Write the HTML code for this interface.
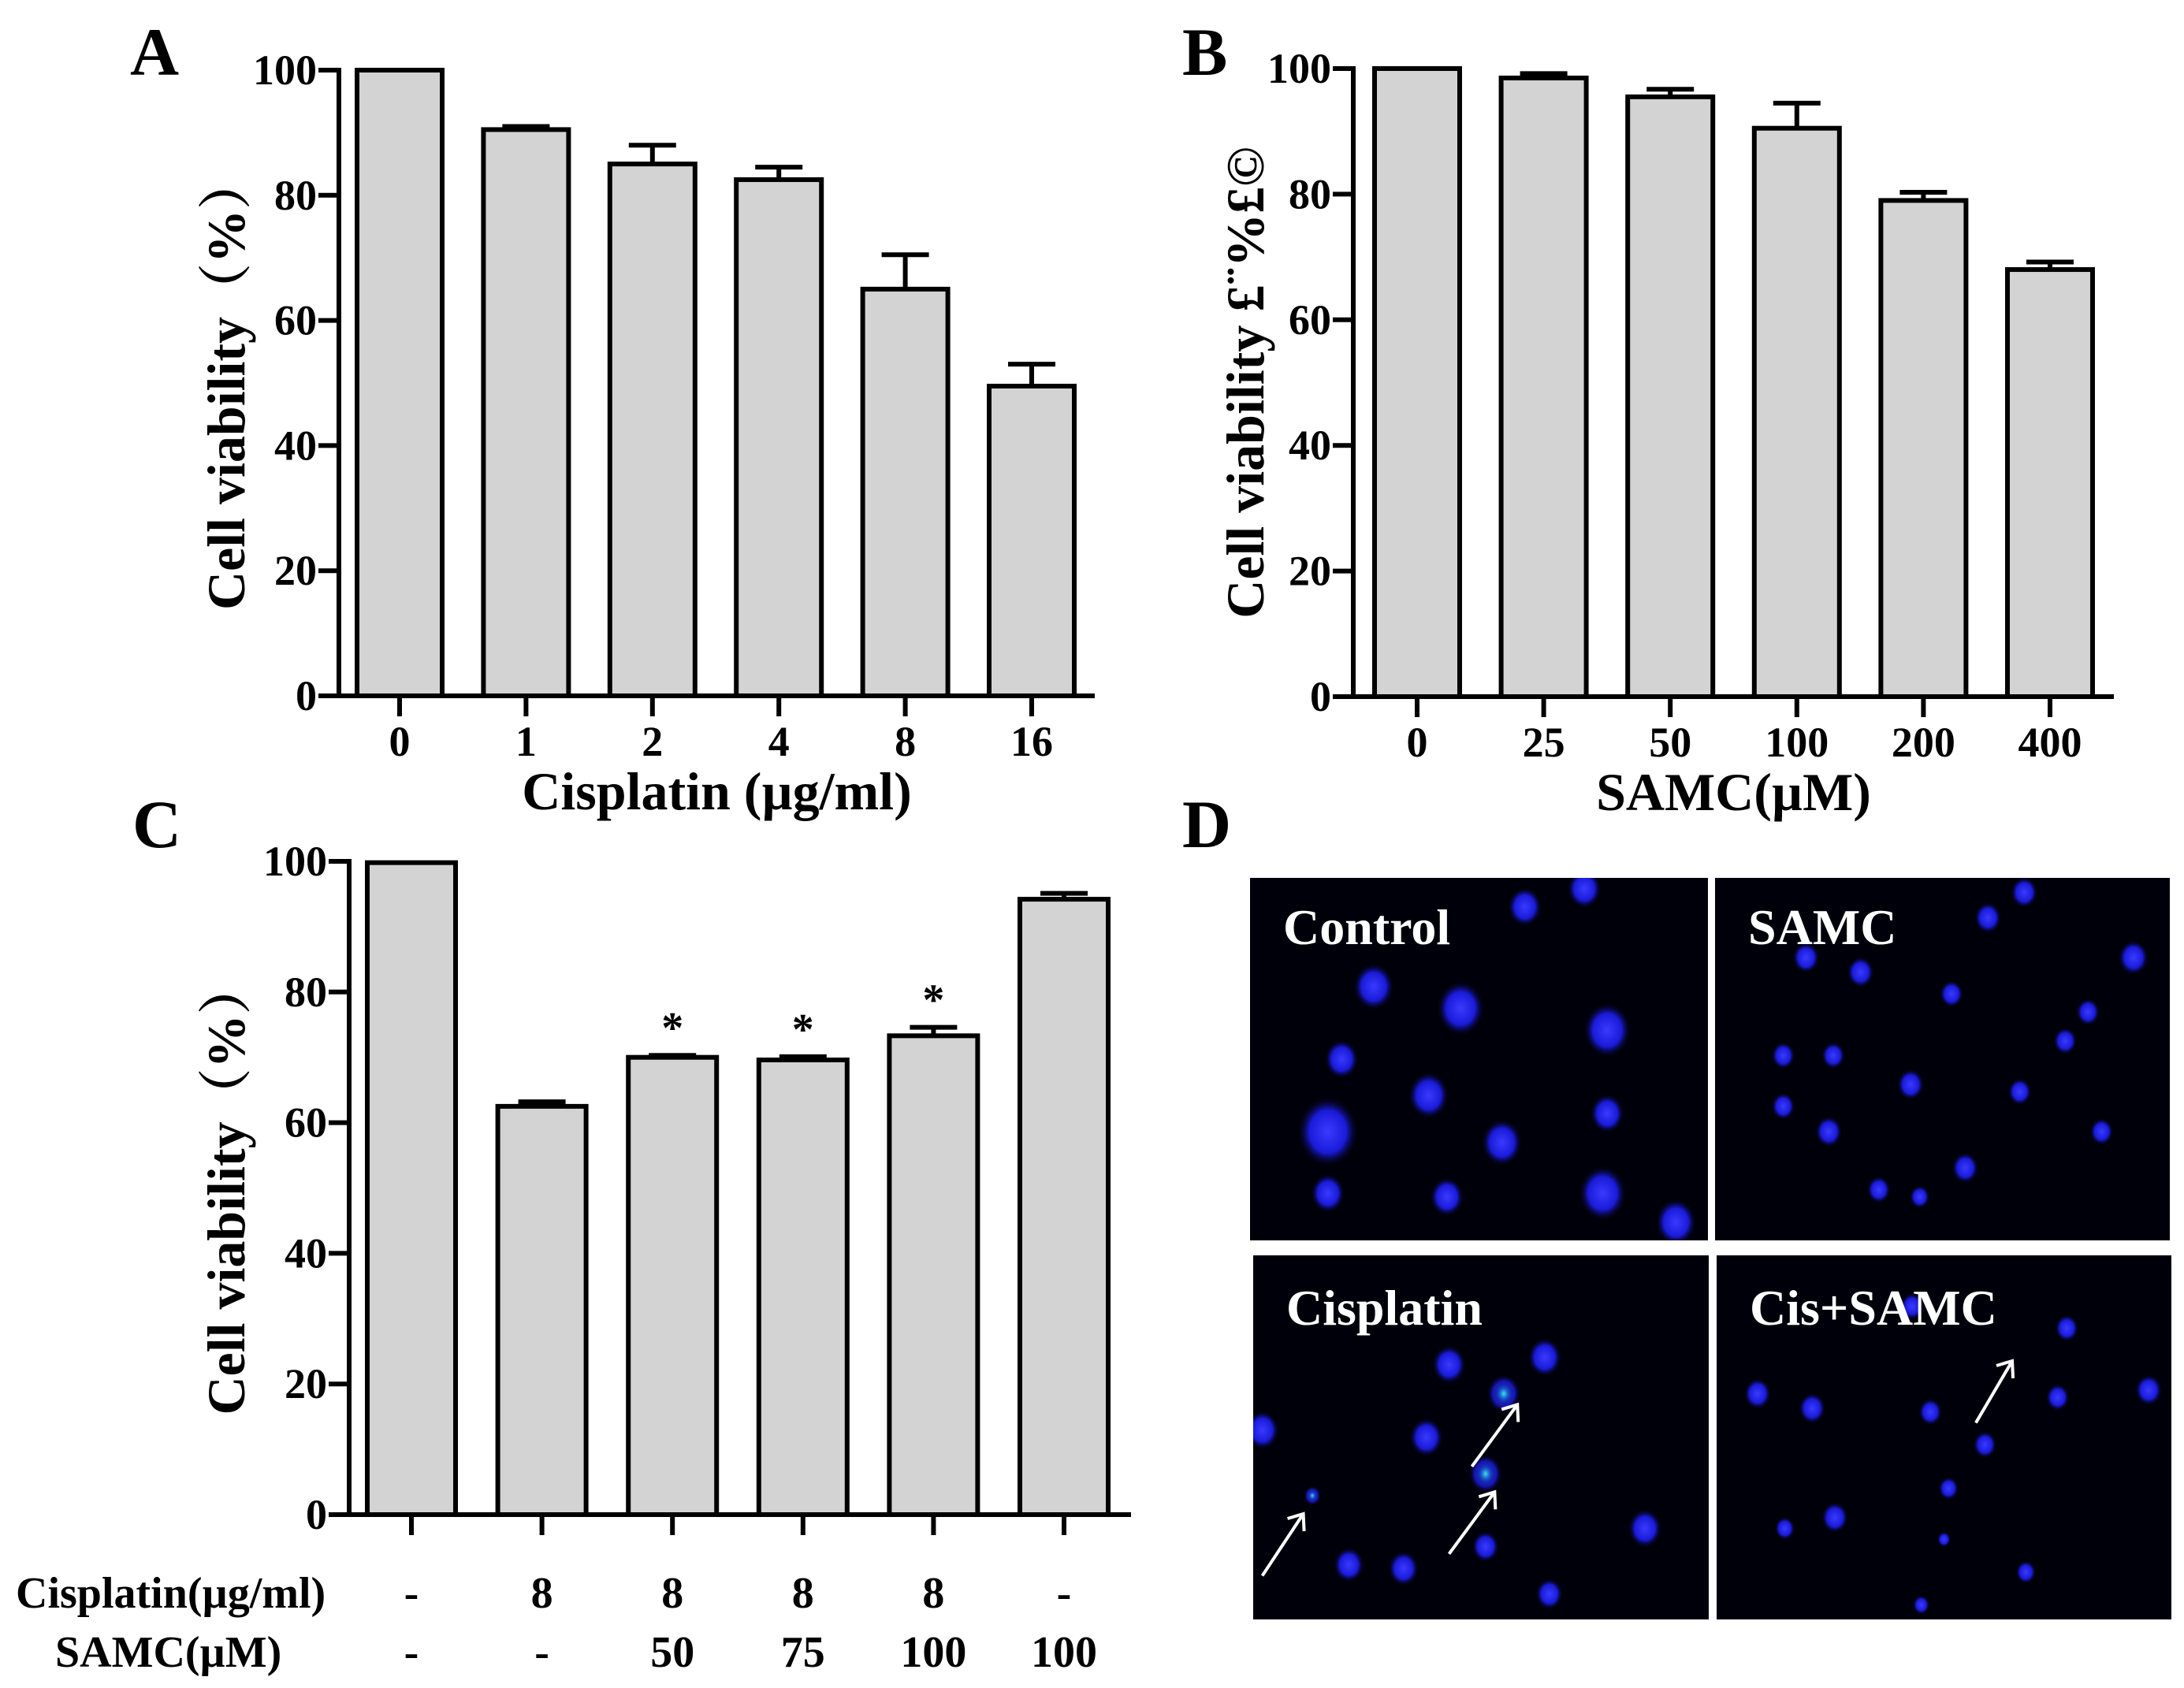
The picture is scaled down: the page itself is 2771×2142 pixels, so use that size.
<!DOCTYPE html>
<html><head><meta charset="utf-8">
<style>
html,body{margin:0;padding:0;background:#fff;}
svg{display:block;}
text{font-family:"Liberation Serif","Noto Serif CJK SC",serif;font-weight:bold;fill:#000;}
</style></head>
<body>
<svg id="fig" width="2771" height="2142" viewBox="0 0 2771 2142" xmlns="http://www.w3.org/2000/svg">
<defs>
<radialGradient id="nuc" cx="50%" cy="50%" r="50%">
<stop offset="0" stop-color="#3a3aff"/><stop offset="0.6" stop-color="#1a1ad8"/><stop offset="1" stop-color="#000010" stop-opacity="0"/>
</radialGradient>
<radialGradient id="nucb" cx="50%" cy="50%" r="50%">
<stop offset="0" stop-color="#40e0d0"/><stop offset="0.35" stop-color="#1a60e0"/><stop offset="1" stop-color="#000010" stop-opacity="0"/>
</radialGradient>
</defs>
<g id="layer"></g>
</svg>
<script>
// Panel A data
const catsA = ["0","1","2","4","8","16"];
const valsA = [100, 90.5, 85, 82.5, 65, 49.5];
const errsA = [0, 0.5, 3, 2, 5.5, 3.5];
// Panel B data
const catsB = ["0","25","50","100","200","400"];
const valsB = [100, 98.5, 95.5, 90.5, 79, 68];
const errsB = [0, 0.7, 1.2, 4, 1.3, 1.2];
// Panel C data
const cisC = ["-","8","8","8","8","-"];
const samcC = ["-","-","50","75","100","100"];
const valsC = [99.8, 62.5, 70, 69.6, 73.3, 94.2];
const errsC = [0.2, 0.7, 0.3, 0.5, 1.3, 0.9];
const starsC = [false, false, true, true, true, false];
const yTicks = [0, 20, 40, 60, 80, 100];

const NS = "http://www.w3.org/2000/svg";
const layer = document.getElementById("layer");
function mk(tag, attrs, parent){
  const e = document.createElementNS(NS, tag);
  for (const k in attrs) e.setAttribute(k, attrs[k]);
  (parent||layer).appendChild(e);
  return e;
}

function panel(p){
  const g = mk("g", {});
  
  
  const y = v => p.y0 - (v/100)*(p.y0 - p.y100);
  const x = i => p.c0 + i*p.step;
  p.vals.forEach((v,i)=>{
    const b = mk("rect", {x:x(i)-p.bw/2, y:y(v), width:p.bw, height:p.y0-y(v), fill:"#d3d3d3", stroke:"#000", "stroke-width":6}, g);
    
    
    const e = p.errs[i];
    if (e > 0.25){
      const eb = mk("path", {d:`M${x(i)} ${y(v)} V${y(v+e)} M${x(i)-30} ${y(v+e)} H${x(i)+30}`, stroke:"#000", "stroke-width":6, fill:"none"}, g);
      
      
    }
    if (p.stars && p.stars[i]){
      const s = mk("text", {x:x(i), y:y(v+e)+2-18, "font-size":56, "text-anchor":"middle"}, g);
      s.textContent = "*";
      
      
    }
    const tk = mk("line", {x1:x(i), x2:x(i), y1:p.y0, y2:p.y0+26, stroke:"#000", "stroke-width":6}, g);
    
    
  });
  const ya = mk("path", {d:`M${p.ax-26} ${p.y100} H${p.ax} V${p.y0} H${p.xend}`, stroke:"#000", "stroke-width":6, fill:"none"}, g);
  
  
  yTicks.forEach(t=>{
    const l = mk("line", {x1:p.ax-26, x2:p.ax, y1:y(t), y2:y(t), stroke:"#000", "stroke-width":6}, g);
    
    
    const tx = mk("text", {x:p.ax-28, y:y(t)+18, "font-size":54, "text-anchor":"end"}, g);
    tx.textContent = t;
    
    
  });
  if (p.cats){
    p.cats.forEach((c,i)=>{
      const tx = mk("text", {x:x(i), y:p.y0+76, "font-size":54, "text-anchor":"middle"}, g);
      tx.textContent = c;
      
      
    });
  }
  const yt = mk("text", {x:0, y:0, "font-size":68, "text-anchor":"middle", transform:`translate(${p.ytx},${(p.y0+p.y100)/2}) rotate(-90)`}, g);
  yt.textContent = p.ytitle;
  
  
  if (p.xtitle){
    const xt = mk("text", {x:(p.ax+p.xend)/2, y:p.y0+144, "font-size":68, "text-anchor":"middle"}, g);
    xt.textContent = p.xtitle;
    
    
  }
  return {g, x};
}

panel({name:"panel-a-chart", vals:valsA, errs:errsA, cats:catsA, ax:430, y0:883, y100:89, c0:507, step:160.4, bw:108, xend:1389, ytx:310, ytitle:"Cell viability（%）", xtitle:"Cisplatin (µg/ml)"});
panel({name:"panel-b-chart", vals:valsB, errs:errsB, cats:catsB, ax:1717, y0:884, y100:87, c0:1798, step:160.6, bw:108, xend:2682, ytx:1603, ytitle:"Cell viability £¨%£©", xtitle:"SAMC(µM)"});
const pc = panel({name:"panel-c-chart", vals:valsC, errs:errsC, stars:starsC, ax:443, y0:1922, y100:1093, c0:522, step:165.6, bw:112, xend:1435, ytx:310, ytitle:"Cell viability（%）"});

function rowLabel(txt, xx, yy, name){
  const t = mk("text", {x:xx, y:yy, "font-size":56});
  t.textContent = txt;
  
  
}
rowLabel("Cisplatin(µg/ml)", 20, 2040, "cisplatin-row-label");
rowLabel("SAMC(µM)", 70, 2115, "samc-row-label");
cisC.forEach((c,i)=>{
  const t = mk("text", {x:pc.x(i), y:2040, "font-size":56, "text-anchor":"middle"});
  t.textContent = c;
  
  
});
samcC.forEach((c,i)=>{
  const t = mk("text", {x:pc.x(i), y:2115, "font-size":56, "text-anchor":"middle"});
  t.textContent = c;
  
  
});

[["A",165,95],["B",1500,95],["C",168,1075],["D",1500,1075]].forEach(([l,xx,yy])=>{
  const t = mk("text", {x:xx, y:yy, "font-size":86});
  t.textContent = l;
  
  
});

const imgs = [
  {name:"control-image", label:"Control", x:1586, y:1114, w:581, h:460,
   cells:[[0.17,0.7,.09],[0.27,0.3,.06],[0.46,0.36,.07],[0.39,0.6,.06],[0.78,0.42,.07],[0.2,0.5,.05],[0.55,0.73,.06],[0.77,0.87,.07],[0.93,0.95,.06],[0.6,0.08,.05],[0.73,0.03,.05],[0.17,0.87,.05],[0.43,0.88,.05],[0.78,0.65,.05]]},
  {name:"samc-image", label:"SAMC", x:2176, y:1114, w:577, h:460,
   cells:[[0.2,0.22,.04],[0.32,0.26,.04],[0.6,0.11,.04],[0.92,0.22,.045],[0.52,0.32,.035],[0.82,0.37,.035],[0.15,0.49,.035],[0.26,0.49,.035],[0.43,0.57,.04],[0.67,0.59,.035],[0.77,0.45,.035],[0.15,0.63,.035],[0.25,0.7,.04],[0.55,0.8,.04],[0.85,0.7,.035],[0.36,0.86,.035],[0.45,0.88,.03],[0.68,0.04,.04]]},
  {name:"cisplatin-image", label:"Cisplatin", x:1590, y:1593, w:578, h:462,
   cells:[[0.43,0.3,.05],[0.55,0.38,.05],[0.64,0.28,.05],[0.38,0.5,.05],[0.51,0.6,.05],[0.13,0.66,.025],[0.21,0.85,.045],[0.33,0.86,.045],[0.51,0.8,.04],[0.86,0.75,.05],[0.65,0.93,.04],[0.02,0.48,.05]],
   bright:[[0.55,0.38,.04],[0.51,0.6,.04],[0.13,0.66,.02]]},
  {name:"cis-samc-image", label:"Cis+SAMC", x:2178, y:1593, w:577, h:462,
   cells:[[0.09,0.38,.04],[0.21,0.42,.04],[0.47,0.43,.035],[0.77,0.2,.035],[0.75,0.39,.035],[0.95,0.37,.04],[0.59,0.52,.035],[0.51,0.64,.03],[0.26,0.72,.04],[0.15,0.75,.03],[0.5,0.78,.02],[0.68,0.87,.03],[0.45,0.96,.025],[0.43,0.14,.035]]}
];
const arrows = {
  "cisplatin-image":[[0.02,0.88,0.11,0.71],[0.43,0.82,0.53,0.65],[0.48,0.58,0.58,0.41]],
  "cis-samc-image":[[0.57,0.46,0.65,0.29]]
};
imgs.forEach(im=>{
  const g = mk("g", {});
  
  
  mk("rect", {x:im.x, y:im.y, width:im.w, height:im.h, fill:"#00000a"}, g);
  const cp = mk("clipPath", {id:"cp-"+im.name}, g);
  mk("rect", {x:im.x, y:im.y, width:im.w, height:im.h}, cp);
  const inner = mk("g", {"clip-path":`url(#cp-${im.name})`}, g);
  im.cells.forEach(c=>{
    const r = c[2]*im.w*0.75;
    mk("ellipse", {cx:im.x+c[0]*im.w, cy:im.y+c[1]*im.h, rx:r, ry:r*1.15, fill:"url(#nuc)"}, inner);
  });
  (im.bright||[]).forEach(c=>{
    const r = c[2]*im.w*0.6;
    mk("ellipse", {cx:im.x+c[0]*im.w, cy:im.y+c[1]*im.h, rx:r, ry:r*1.2, fill:"url(#nucb)"}, inner);
  });
  (arrows[im.name]||[]).forEach(a=>{
    const x1=im.x+a[0]*im.w, y1=im.y+a[1]*im.h, x2=im.x+a[2]*im.w, y2=im.y+a[3]*im.h;
    const ar = mk("path", {d:`M${x1} ${y1} L${x2} ${y2} M${x2-20} ${y2+6} L${x2} ${y2} L${x2+1} ${y2+22}`, stroke:"#fff", "stroke-width":4, fill:"none"}, inner);
    
    
  });
  const t = mk("text", {x:im.x+42, y:im.y+ (im.y<1500?84:88), "font-size":64, fill:"#fff", style:"fill:#fff"}, g);
  t.textContent = im.label;
  
  
});
</script>
</body></html>
